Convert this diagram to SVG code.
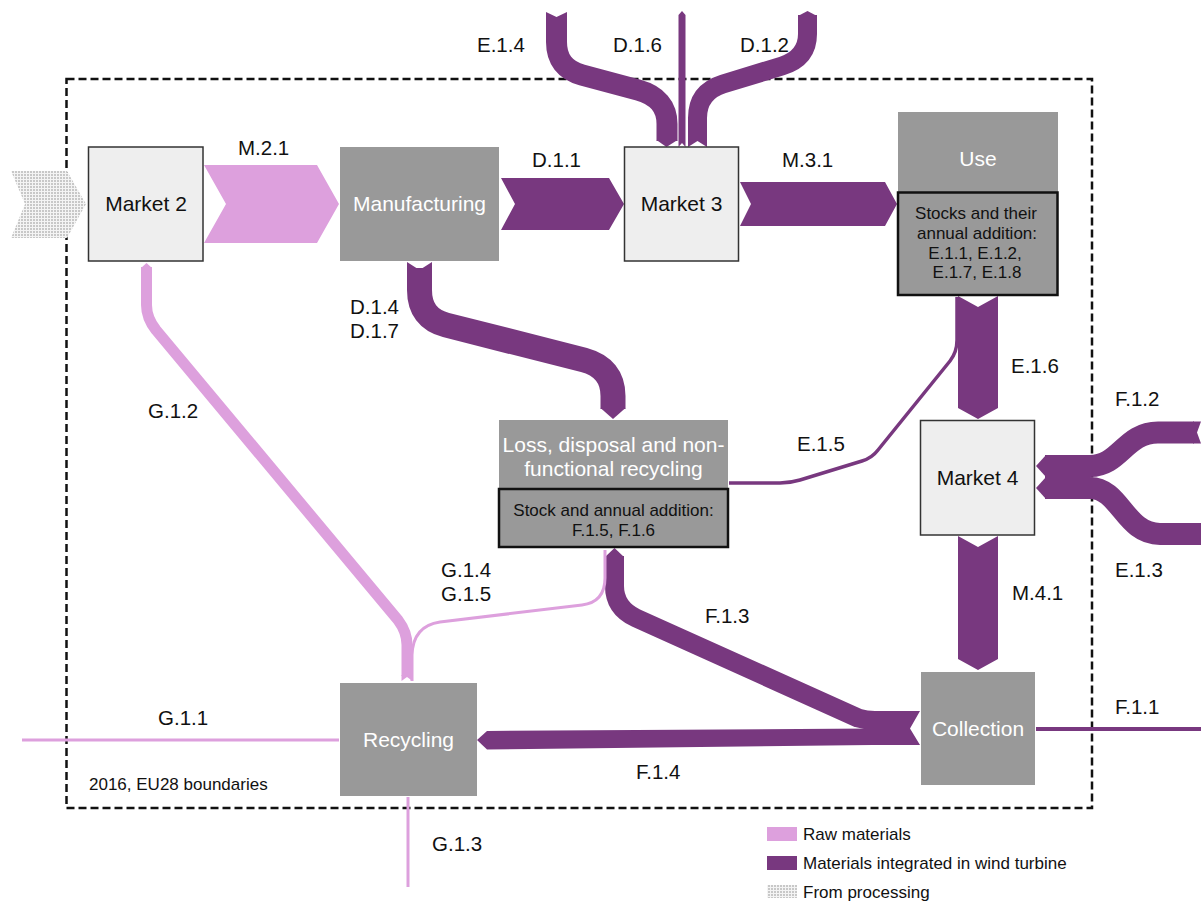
<svg xmlns="http://www.w3.org/2000/svg" width="1201" height="902" viewBox="0 0 1201 902">
  <style>
    .lbl { font-family: "Liberation Sans", Arial, sans-serif; font-size: 20.5px; fill: #111; }
    .node { font-size: 21px; }
    .small { font-family: "Liberation Sans", Arial, sans-serif; font-size: 17px; fill: #111; }
    .white { fill: #ffffff; }
    .mid { text-anchor: middle; }
    .market { fill: #eeeeee; stroke: #333333; stroke-width: 1.5; }
    .proc { fill: #999999; }
    .stock { fill: #999999; stroke: #111111; stroke-width: 2.5; }
    .purple { fill: #78387f; }
    .pink { fill: #dda0dd; }
    .pband { fill: none; stroke: #78387f; stroke-linejoin: round; }
    .kband { fill: none; stroke: #dda0dd; stroke-linejoin: round; }
    .boundary { fill: none; stroke: #111111; stroke-width: 2.5; stroke-dasharray: 8 4; }
  </style>
  <defs>
    <pattern id="hatch" width="3" height="3" patternUnits="userSpaceOnUse">
      <rect width="3" height="3" fill="#f4f4f4"/>
      <rect width="2" height="2" fill="#c8c8c8"/>
    </pattern>
  </defs>

  <!-- system boundary -->
  <g id="boundary">
    <rect class="boundary" x="66.5" y="79" width="1025.5" height="729"/>
    <text class="small" x="89" y="790">2016, EU28 boundaries</text>
  </g>

  <!-- flows between nodes -->
  <g id="connectors">
    <!-- From processing into Market 2 -->
    <polygon points="11,171 67,171 86,204 67,238 11,238 25,204" fill="url(#hatch)"/>
    <!-- M.2.1 -->
    <polygon class="pink" points="204,165 317,165 339,204 317,243 204,243 226,204"/>
    <!-- D.1.1 -->
    <polygon class="purple" points="501,178 609,178 624,204 609,230 501,230 515,204"/>
    <!-- M.3.1 -->
    <polygon class="purple" points="740,182 885,182 897,204 885,226 740,226 751,204"/>

    <!-- E.1.4 import into Market 3 -->
    <path class="pband" stroke-width="21" d="M556.5,19 V42 Q556.5,68 582,75 L638,90 Q667,98 667,124 V141"/>
    <polygon class="purple" points="546,12 556.5,17 567,12 567,21 546,21"/>
    <polygon class="purple" points="656.5,140 666.5,147 677.5,140"/>
    <!-- D.1.6 -->
    <polygon class="purple" points="678.5,15 682,11 685.5,15 685.5,147 682,143 678.5,147"/>
    <!-- D.1.2 -->
    <path class="pband" stroke-width="19" d="M697.5,141 V118 Q697.5,92 723,84 L782,66 Q807.5,58 807.5,34 V15"/>
    <polygon class="purple" points="688,140 707,140 707,147 697.5,141 688,147"/>
    <polygon class="purple" points="798,16 807.5,11 817,16"/>

    <!-- D.1.4 / D.1.7 Manufacturing to Loss -->
    <path class="pband" stroke-width="25" d="M419.5,268 V290 Q419.5,318 446,325 L584,360 Q613,368 613,396 V409"/>
    <polygon class="purple" points="407,262 419.5,270 432,262 432,272 407,272"/>
    <polygon class="purple" points="600.5,408 625.5,408 613,419"/>

    <!-- E.1.6 Use to Market 4 -->
    <polygon class="purple" points="958,296 978,307 998,296 998,408 978,419 958,408"/>
    <!-- E.1.5 Use to Loss -->
    <path class="pband" stroke-width="3.5" d="M729,483 H780 Q790,483 800,480 L862,461 Q872,458 878,450 L950,361 Q957,352 957,340 V297"/>

    <!-- F.1.2 and E.1.3 into Market 4 -->
    <path class="pband" stroke-width="22" d="M1045,466 H1090 C1120,466 1125,432.5 1158,432.5 H1194"/>
    <polygon class="purple" points="1193,421.5 1201,421.5 1197,432.5 1201,443.5 1193,443.5"/>
    <path class="pband" stroke-width="22" d="M1045,488 H1090 C1120,488 1125,534 1160,534 H1201"/>
    <polygon class="purple" points="1046,455 1036,466 1046,477"/>
    <polygon class="purple" points="1046,477 1036,488 1046,499"/>

    <!-- M.4.1 Market 4 to Collection -->
    <polygon class="purple" points="958,536 978,547 998,536 998,659 978,670 958,659"/>
    <!-- F.1.1 -->
    <path class="pband" stroke-width="4" d="M1036,729 H1201"/>

    <!-- F.1.3 Collection to Loss -->
    <path class="pband" stroke-width="19" d="M614.5,556 V586 Q614.5,608 636,618 L858,718 Q866,720.5 875,720.5 H880"/>
    <polygon class="purple" points="605,557 614.5,548 624,557"/>
    <!-- F.1.4 Collection to Recycling -->
    <polygon class="purple" points="477,740 487,731 872,728.5 872,745 487,749.5"/>
    <polygon class="purple" points="866,711 920,711 910,728.5 920,745 866,745"/>

    <!-- G.1.2 Recycling to Market 2 -->
    <path class="kband" stroke-width="11" d="M146.5,267 V305 Q146.5,318 156,330 L398,620 Q407,632 407,645 V676"/>
    <polygon class="pink" points="141,268 146.5,263 152,268"/>
    <polygon class="pink" points="401.5,675 412.5,675 412.5,681 407,677 401.5,681"/>
    <!-- G.1.4 / G.1.5 Loss to Recycling -->
    <path class="kband" stroke-width="3" d="M605,550 V578 Q605,602 582,605 L440,622 Q413,626 412,655 V681"/>
    <!-- G.1.1 and G.1.3 -->
    <path class="kband" stroke-width="3" d="M22,740 H339"/>
    <path class="kband" stroke-width="3" d="M408,797 V887"/>
  </g>

  <!-- flow labels -->
  <g id="flow-labels" class="lbl">
    <text x="477" y="52">E.1.4</text>
    <text x="613" y="52">D.1.6</text>
    <text x="740" y="52">D.1.2</text>
    <text x="238" y="155">M.2.1</text>
    <text x="532" y="167">D.1.1</text>
    <text x="782" y="167">M.3.1</text>
    <text x="350" y="314">D.1.4</text>
    <text x="350" y="338">D.1.7</text>
    <text x="148" y="418">G.1.2</text>
    <text x="797" y="451">E.1.5</text>
    <text x="1011" y="373">E.1.6</text>
    <text x="1115" y="406">F.1.2</text>
    <text x="1115" y="577">E.1.3</text>
    <text x="1012" y="600">M.4.1</text>
    <text x="705" y="623">F.1.3</text>
    <text x="441" y="577">G.1.4</text>
    <text x="441" y="601">G.1.5</text>
    <text x="1115" y="714">F.1.1</text>
    <text x="158" y="725">G.1.1</text>
    <text x="636" y="779">F.1.4</text>
    <text x="432" y="851">G.1.3</text>
  </g>

  <!-- nodes -->
  <g id="market2">
    <rect class="market" x="88.5" y="147" width="114.5" height="114"/>
    <text class="lbl node mid" x="146" y="211">Market 2</text>
  </g>
  <g id="manufacturing">
    <rect class="proc" x="340" y="147" width="159" height="114"/>
    <text class="lbl node white mid" x="419.5" y="211">Manufacturing</text>
  </g>
  <g id="market3">
    <rect class="market" x="624.5" y="147" width="114" height="114"/>
    <text class="lbl node mid" x="681.5" y="211">Market 3</text>
  </g>
  <g id="use">
    <rect class="proc" x="898" y="112" width="160" height="81"/>
    <text class="lbl node white mid" x="978" y="166">Use</text>
    <rect class="stock" x="898" y="192.5" width="159.5" height="102.5"/>
    <text class="small mid" x="976" y="219">Stocks and their</text>
    <text class="small mid" x="977" y="239">annual addition:</text>
    <text class="small mid" x="975" y="259">E.1.1, E.1.2,</text>
    <text class="small mid" x="977" y="278">E.1.7, E.1.8</text>
  </g>
  <g id="loss">
    <rect class="proc" x="499" y="420" width="229" height="69"/>
    <text class="lbl node white mid" x="613.5" y="452">Loss, disposal and non-</text>
    <text class="lbl node white mid" x="613.5" y="476">functional recycling</text>
    <rect class="stock" x="499" y="489" width="229" height="58"/>
    <text class="small mid" x="613.5" y="516">Stock and annual addition:</text>
    <text class="small mid" x="613.5" y="536">F.1.5, F.1.6</text>
  </g>
  <g id="market4">
    <rect class="market" x="920.5" y="420.5" width="114" height="114.5"/>
    <text class="lbl node mid" x="977.5" y="485">Market 4</text>
  </g>
  <g id="collection">
    <rect class="proc" x="921" y="672" width="114" height="113"/>
    <text class="lbl node white mid" x="978" y="736">Collection</text>
  </g>
  <g id="recycling">
    <rect class="proc" x="340" y="683" width="137" height="113"/>
    <text class="lbl node white mid" x="408.5" y="747">Recycling</text>
  </g>

  <!-- legend -->
  <g id="legend">
    <rect class="pink" x="767" y="827" width="30" height="14"/>
    <text class="small" x="803" y="840">Raw materials</text>
    <rect class="purple" x="767" y="856" width="30" height="14"/>
    <text class="small" x="803" y="869">Materials integrated in wind turbine</text>
    <rect x="767" y="885" width="30" height="13" fill="url(#hatch)"/>
    <text class="small" x="803" y="898">From processing</text>
  </g>
</svg>
